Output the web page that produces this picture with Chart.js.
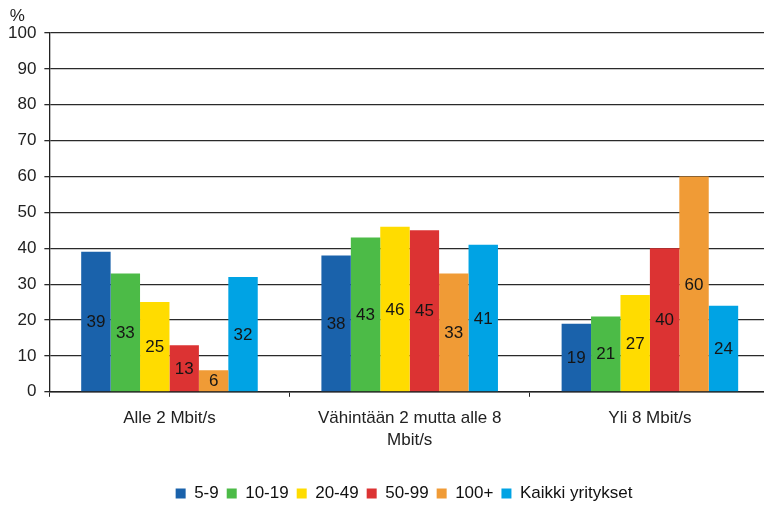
<!DOCTYPE html>
<html>
<head>
<meta charset="utf-8">
<script src="https://cdn.jsdelivr.net/npm/chart.js@4/dist/chart.umd.min.js"></script>
<style>
  html, body { margin: 0; padding: 0; background: #fff; overflow: hidden; }
  #wrap { width: 780px; height: 505px; }
</style>
</head>
<body>
<div id="wrap"><canvas id="chart" width="780" height="505"></canvas></div>
<script>
// data
var categories = ["Alle 2 Mbit/s", ["Vähintään 2 mutta alle 8", "Mbit/s"], "Yli 8 Mbit/s"];
var seriesNames = ["5-9", "10-19", "20-49", "50-99", "100+", "Kaikki yritykset"];
var size5to9 = [39, 38, 19];
var size10to19 = [33, 43, 21];
var size20to49 = [25, 46, 27];
var size50to99 = [13, 45, 40];
var size100plus = [6, 33, 60];
var allFirms = [32, 41, 24];
var yTicks = [0, 10, 20, 30, 40, 50, 60, 70, 80, 90, 100];

var seriesValues = [size5to9, size10to19, size20to49, size50to99, size100plus, allFirms];
var seriesColors = ["#1a62ab", "#4cbb47", "#ffdc00", "#dc3333", "#f09b36", "#00a3e4"];
var FONT = "'Liberation Sans', Arial, sans-serif";

// bar value labels, centered in each bar
var barLabels = {
  id: 'barLabels',
  afterDatasetsDraw: function(chart) {
    var ctx = chart.ctx;
    ctx.save();
    ctx.font = "17px " + FONT;
    ctx.fillStyle = "#151515";
    ctx.textAlign = "center";
    ctx.textBaseline = "middle";
    chart.data.datasets.forEach(function(ds, i) {
      chart.getDatasetMeta(i).data.forEach(function(bar, j) {
        ctx.fillText(ds.data[j], bar.x, (bar.y + bar.base) / 2 + 1);
      });
    });
    ctx.restore();
  }
};

// "%" unit above the y axis + legend nudge
var extras = {
  id: 'extras',
  afterLayout: function(chart) {
    chart.legend.left += 19;
    chart.legend.right += 19;
    chart.legend.top += 9;
    chart.legend.bottom += 9;
  },
  afterDraw: function(chart) {
    var ctx = chart.ctx;
    ctx.save();
    ctx.font = "17px " + FONT;
    ctx.fillStyle = "#222";
    ctx.textAlign = "center";
    ctx.textBaseline = "middle";
    ctx.fillText("%", chart.chartArea.left - 32, chart.chartArea.top - 17);
    ctx.restore();
  }
};

var chart = new Chart(document.getElementById('chart').getContext('2d'), {
  type: 'bar',
  data: {
    labels: categories,
    datasets: seriesNames.map(function(name, i) {
      return {
        label: name,
        data: seriesValues[i],
        backgroundColor: seriesColors[i],
        borderWidth: 0,
        categoryPercentage: 0.735,
        barPercentage: 1.0
      };
    })
  },
  options: {
    responsive: false,
    animation: false,
    layout: { padding: { left: 0, right: 10, top: 33, bottom: 2 } },
    plugins: {
      tooltip: { enabled: false },
      legend: {
        position: 'bottom',
        labels: {
          boxWidth: 10,
          boxHeight: 10,
          padding: 8,
          color: "#111",
          font: { family: FONT, size: 17 }
        }
      }
    },
    scales: {
      x: {
        afterFit: function(axis) { axis.height += 7; },
        grid: { drawOnChartArea: false, drawTicks: true, tickLength: 5, offset: true, color: "#222" },
        border: { display: true, color: "#222", width: 1.6 },
        ticks: { color: "#222", padding: 10, maxRotation: 0, font: { family: FONT, size: 17, lineHeight: 1.3 } }
      },
      y: {
        min: 0,
        max: 100,
        afterBuildTicks: function(axis) {
          axis.ticks = yTicks.map(function(v) { return { value: v }; });
        },
        grid: { color: "#2a2a2a", lineWidth: 1.3, tickLength: 5 },
        border: { display: true, color: "#222", width: 1.3 },
        ticks: { color: "#222", padding: 8, font: { family: FONT, size: 17 } }
      }
    }
  },
  plugins: [barLabels, extras]
});
</script>
</body>
</html>
